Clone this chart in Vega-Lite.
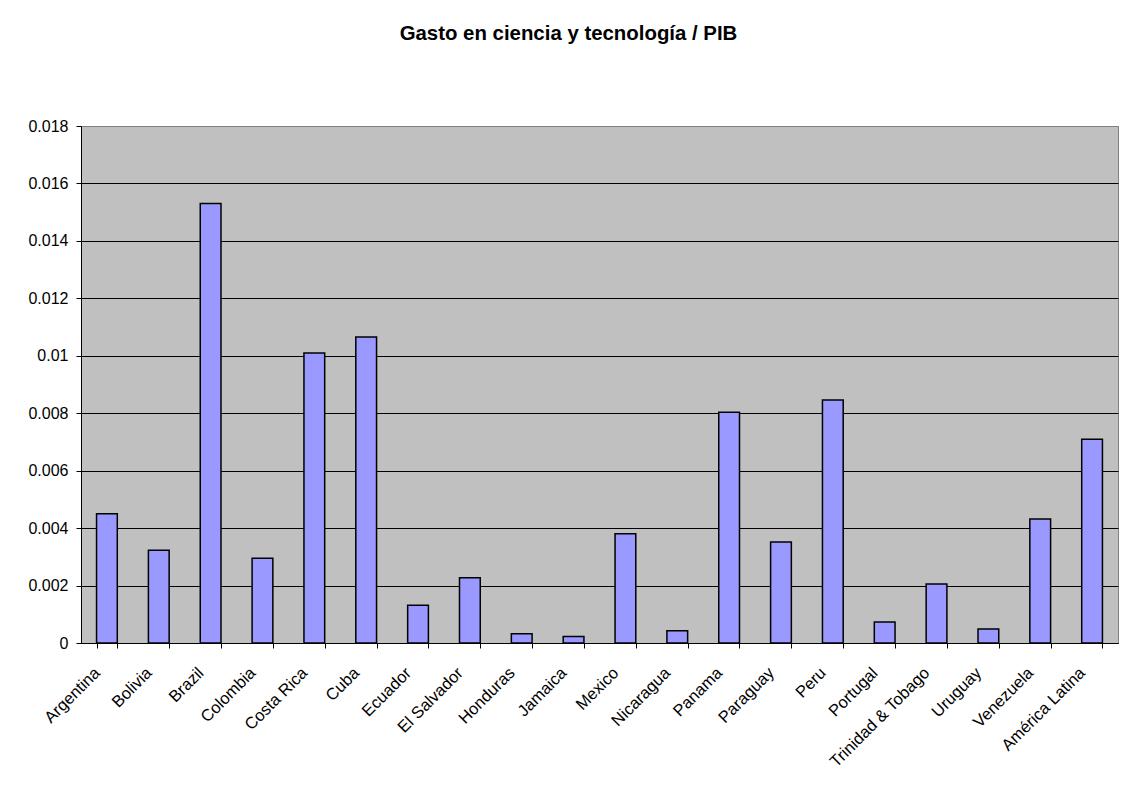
{
  "$schema": "https://vega.github.io/schema/vega-lite/v6.json",
  "autosize": "none",
  "width": 1037,
  "height": 517,
  "padding": {"left": 81, "top": 126, "right": 13, "bottom": 148},
  "background": "white",
  "title": {
    "text": "Gasto en ciencia y tecnología / PIB",
    "anchor": "middle",
    "frame": "group",
    "dx": -31,
    "offset": 58,
    "baseline": "alphabetic",
    "font": "Liberation Sans",
    "fontSize": 20.4,
    "fontWeight": "bold",
    "color": "black"
  },
  "data": {
    "values": [
      {"pais": "Argentina", "gasto": 0.0045},
      {"pais": "Bolivia", "gasto": 0.00323},
      {"pais": "Brazil", "gasto": 0.0153},
      {"pais": "Colombia", "gasto": 0.00295},
      {"pais": "Costa Rica", "gasto": 0.0101},
      {"pais": "Cuba", "gasto": 0.01065},
      {"pais": "Ecuador", "gasto": 0.00131},
      {"pais": "El Salvador", "gasto": 0.00227},
      {"pais": "Honduras", "gasto": 0.00032},
      {"pais": "Jamaica", "gasto": 0.00023},
      {"pais": "Mexico", "gasto": 0.0038},
      {"pais": "Nicaragua", "gasto": 0.00043},
      {"pais": "Panama", "gasto": 0.00803},
      {"pais": "Paraguay", "gasto": 0.00352},
      {"pais": "Peru", "gasto": 0.00846},
      {"pais": "Portugal", "gasto": 0.00073},
      {"pais": "Trinidad & Tobago", "gasto": 0.00205},
      {"pais": "Uruguay", "gasto": 0.00049},
      {"pais": "Venezuela", "gasto": 0.00432},
      {"pais": "América Latina", "gasto": 0.00709}
    ]
  },
  "mark": {"type": "bar", "fill": "#9999FF", "stroke": "black", "strokeWidth": 1.5},
  "encoding": {
    "x": {
      "field": "pais",
      "type": "nominal",
      "sort": null,
      "scale": {"paddingInner": 0.6, "paddingOuter": 0.3},
      "axis": {
        "title": null,
        "tickBand": "extent",
        "labelAngle": -45,
        "labelAlign": "right",
        "labelBaseline": "middle",
        "labelPadding": 22,
        "labelOffset": -10,
        "tickSize": 5,
        "tickColor": "black",
        "domainColor": "black",
        "labelFont": "Liberation Sans",
        "labelFontSize": 16.5,
        "labelColor": "black",
        "grid": false
      }
    },
    "y": {
      "field": "gasto",
      "type": "quantitative",
      "scale": {"domain": [0, 0.018], "nice": false},
      "axis": {
        "title": null,
        "values": [0, 0.002, 0.004, 0.006, 0.008, 0.01, 0.012, 0.014, 0.016, 0.018],
        "format": "~f",
        "grid": true,
        "gridColor": {"condition": {"test": "datum.value >= 0.018", "value": "#808080"}, "value": "black"},
        "gridWidth": 1,
        "gridOpacity": 1,
        "tickSize": 5,
        "tickColor": "black",
        "domainColor": "black",
        "labelFont": "Liberation Sans",
        "labelFontSize": 16,
        "labelColor": "black",
        "labelPadding": 8
      }
    }
  },
  "config": {
    "view": {"fill": "#C0C0C0", "stroke": "#808080", "strokeWidth": 1}
  }
}
